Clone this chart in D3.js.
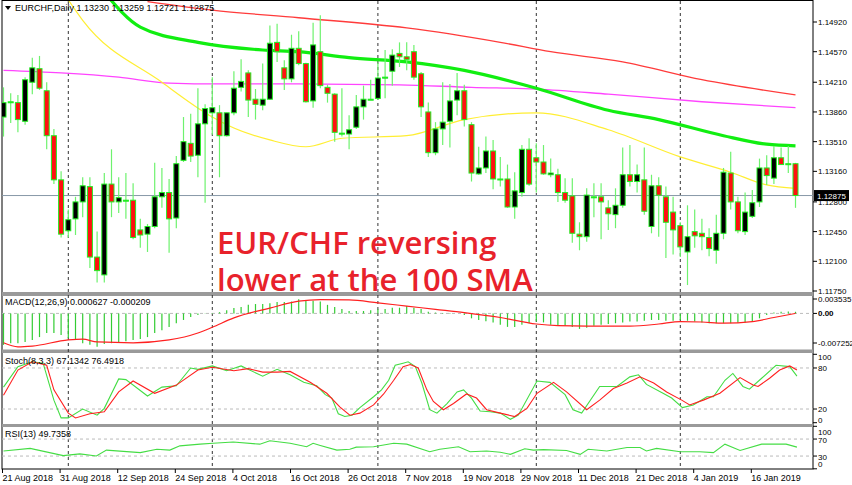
<!DOCTYPE html>
<html><head><meta charset="utf-8">
<script src="https://cdn.jsdelivr.net/npm/d3@7"></script>
<style>body{margin:0;background:#fff}svg{display:block}text{font-family:"Liberation Sans",Arial,sans-serif}</style>
</head><body><svg id="c" width="852" height="485"></svg>
<script>
const open=[1.1380,1.1398,1.1397,1.1375,1.1421,1.1437,1.1411,1.1358,1.1306,1.1246,
1.1260,1.1280,1.1298,1.1215,1.1194,1.1301,1.1280,1.1282,1.1282,1.1247,
1.1242,1.1251,1.1286,1.1291,1.1261,1.1329,1.1349,1.1335,1.1372,1.1385,
1.1385,1.1358,1.1385,1.1415,1.1432,1.1401,1.1394,1.1401,1.1468,1.1438,
1.1425,1.1461,1.1443,1.1399,1.1457,1.1415,1.1407,1.1361,1.1360,1.1368,
1.1392,1.1401,1.1402,1.1426,1.1434,1.1455,1.1451,1.1457,1.1431,1.1386,
1.1338,1.1366,1.1375,1.1400,1.1411,1.1371,1.1313,1.1320,1.1340,1.1307,
1.1307,1.1274,1.1291,1.1342,1.1332,1.1327,1.1312,1.1312,1.1291,1.1287,
1.1242,1.1239,1.1286,1.1286,1.1273,1.1265,1.1276,1.1312,1.1304,1.1306,
1.1251,1.1299,1.1286,1.1268,1.1252,1.1221,1.1245,1.1243,1.1238,1.1223,
1.1243,1.1314,1.1280,1.1245,1.1263,1.1280,1.1320,1.1308,1.1332,1.1325,1.1325];
const high=[1.1415,1.1408,1.1406,1.1427,1.1450,1.1452,1.1421,1.1366,1.1316,1.1271,
1.1286,1.1309,1.1309,1.1245,1.1314,1.1342,1.1309,1.1314,1.1302,1.1260,
1.1254,1.1326,1.1320,1.1307,1.1334,1.1380,1.1384,1.1414,1.1395,1.1427,
1.1394,1.1385,1.1434,1.1448,1.1435,1.1413,1.1443,1.1488,1.1490,1.1447,
1.1477,1.1481,1.1444,1.1491,1.1500,1.1418,1.1408,1.1414,1.1382,1.1406,
1.1417,1.1424,1.1444,1.1459,1.1460,1.1468,1.1468,1.1465,1.1433,1.1397,
1.1374,1.1421,1.1419,1.1432,1.1418,1.1374,1.1345,1.1357,1.1353,1.1333,
1.1324,1.1315,1.1347,1.1355,1.1349,1.1347,1.1331,1.1319,1.1308,1.1308,
1.1256,1.1296,1.1302,1.1302,1.1282,1.1296,1.1344,1.1347,1.1324,1.1344,
1.1312,1.1309,1.1298,1.1286,1.1256,1.1276,1.1271,1.1260,1.1249,1.1265,
1.1320,1.1339,1.1286,1.1291,1.1294,1.1331,1.1335,1.1346,1.1344,1.1346,1.1326];
const low=[1.1357,1.1373,1.1362,1.1371,1.1407,1.1412,1.1342,1.1301,1.1238,1.1238,
1.1241,1.1262,1.1202,1.1185,1.1185,1.1262,1.1267,1.1260,1.1236,1.1226,
1.1221,1.1249,1.1273,1.1220,1.1249,1.1327,1.1327,1.1309,1.1279,1.1359,
1.1309,1.1357,1.1382,1.1410,1.1380,1.1377,1.1388,1.1400,1.1445,1.1412,
1.1421,1.1441,1.1397,1.1391,1.1414,1.1397,1.1351,1.1357,1.1342,1.1366,
1.1377,1.1400,1.1400,1.1402,1.1417,1.1439,1.1435,1.1424,1.1380,1.1333,
1.1335,1.1347,1.1344,1.1382,1.1369,1.1304,1.1312,1.1314,1.1295,1.1298,
1.1273,1.1260,1.1286,1.1299,1.1291,1.1312,1.1309,1.1280,1.1279,1.1232,
1.1223,1.1233,1.1262,1.1236,1.1247,1.1249,1.1273,1.1298,1.1291,1.1265,
1.1243,1.1239,1.1214,1.1218,1.1215,1.1182,1.1226,1.1223,1.1216,1.1207,
1.1236,1.1271,1.1243,1.1241,1.1261,1.1274,1.1300,1.1301,1.1324,1.1314,1.1273];
const close=[1.1397,1.1398,1.1377,1.1424,1.1438,1.1414,1.1358,1.1306,1.1242,1.1259,
1.1280,1.1299,1.1215,1.1199,1.1301,1.1280,1.1285,1.1282,1.1238,1.1241,
1.1251,1.1286,1.1291,1.1260,1.1325,1.1351,1.1334,1.1372,1.1390,1.1391,
1.1358,1.1385,1.1414,1.1422,1.1400,1.1395,1.1401,1.1467,1.1457,1.1425,
1.1461,1.1443,1.1398,1.1465,1.1417,1.1408,1.1362,1.1361,1.1365,1.1392,
1.1401,1.1401,1.1426,1.1427,1.1453,1.1451,1.1448,1.1427,1.1392,1.1338,
1.1366,1.1374,1.1399,1.1411,1.1377,1.1314,1.1320,1.1340,1.1307,1.1307,
1.1274,1.1293,1.1342,1.1301,1.1327,1.1313,1.1314,1.1291,1.1282,1.1243,
1.1239,1.1288,1.1286,1.1280,1.1266,1.1276,1.1312,1.1304,1.1312,1.1269,
1.1299,1.1288,1.1256,1.1247,1.1227,1.1239,1.1240,1.1239,1.1225,1.1243,
1.1315,1.1280,1.1246,1.1268,1.1279,1.1320,1.1311,1.1332,1.1324,1.1325,1.12875];

const sma200Idx=[20,29,41,56,69,76,86,97,110];
const sma200=[1.1516,1.1506,1.1497,1.1485,1.1468,1.1457,1.1445,1.1424,1.1406];
const maPinkIdx=[0,8,16,23,30,41,55,65,74,84,97,110];
const maPink=[1.1435,1.1432,1.1427,1.1420,1.1419,1.1419,1.1418,1.1415,1.1413,1.1407,1.1398,1.1391];
const sma100Idx=[14,19,27,36,41,48,56,64,74,84,91,100,106,110];
const sma100=[1.1527,1.1486,1.1468,1.1459,1.1457,1.1450,1.1445,1.1435,1.1414,1.1388,1.1377,1.1358,1.1348,1.1346];
const sma50Idx=[9,11,22,29,32,37,42,47,56,64,74,84,94,101,106,110];
const sma50=[1.1518,1.1494,1.1421,1.1380,1.1367,1.1353,1.1345,1.1355,1.1358,1.1377,1.1385,1.1365,1.1333,1.1315,1.1300,1.1296];

const macdHist=[-77,-73,-73,-70,-65,-58,-48,-48,-53,-60,-65,-73,-77,-82,-75,-73,-70,-68,-65,-63,
-58,-48,-41,-33,-24,-16,-9,-4,-1,1,3,8,13,16,21,23,23,25,28,28,
29,35,33,31,29,21,16,11,6,6,6,8,10,11,14,14,18,14,11,4,
2,1,1,0,-4,-12,-16,-19,-22,-28,-33,-33,-28,-24,-20,-22,-28,-30,-30,-33,
-38,-35,-30,-28,-26,-24,-22,-20,-20,-18,-16,-16,-18,-18,-16,-18,-20,-22,-24,-24,
-24,-24,-23,-22,-20,-12,-4,2,4,5,4];
const macdSigIdx=[0,2,4,9,11,13,18,23,27,29,32,37,41,44,48,52,56,60,64,69,74,77,81,87,91,94,97,100,104,107,110];
const macdSig=[-72,-82,-80,-65,-63,-70,-72,-65,-48,-34,-11,13,30,34,33,26,18,10,2,-10,-26,-30,-31,-31,-26,-20,-21,-24,-20,-10,0];

const stochKPos=[0,2,4,5.5,7,8,9,11,13,14,16,17,20,22,24,26,27,29,31,33,36,38,39.8,41.7,43.5,44.7,45.6,46.5,47.4,48.4,49.5,51.4,52.5,53.5,54.4,55.5,56.2,57.2,58.1,59.2,60.2,61.6,63,63.9,65,66.2,67.6,69,70.4,71.5,74.1,75.9,78,79.1,80.3,82.8,85.2,87,88.2,89.3,91.6,92.8,94.3,95.8,97.7,98.6,100.2,101.3,102.7,103.6,105.3,107.3,109.2,110.2];
const stochK=[52,82,89,87,33,7,7,20,11,21,64,63,39,52,54,80,78,83,76,83,68,78,70,59,54,41,36,13,9,11,22,38,48,62,84,87,89,82,58,19,14,28,45,48,36,17,16,14,5,11,61,59,41,19,14,53,53,67,70,56,43,36,22,26,38,38,62,72,53,49,65,84,82,68];
const stochDPos=[0,2,4,6,7,9,10,12,14,16,18,21,24,27,29,32,34,36,38,39.8,42.6,44.9,46.7,48.1,49.5,51.4,52.8,54.2,55.5,56.5,57.6,58.8,59.7,61.1,62.5,64.3,65.7,67.1,69,71,72.7,74.1,76.4,78.2,81,82.8,84.7,86.6,88.4,90.3,92.1,94.2,95.3,97.2,99.5,102.3,104.1,104.8,106.4,107.8,109.2,110.2];
const stochD=[40,77,89,84,48,14,7,13,16,45,61,43,55,77,81,76,79,74,74,75,59,43,23,11,14,26,42,62,82,85,80,48,31,19,28,42,36,19,14,9,21,43,59,45,19,33,50,58,67,58,45,33,26,33,43,66,55,53,65,77,83,77];

const rsiPos=[0,3.7,8.3,10.6,12.9,14.3,19,21.3,23.1,24.5,27.3,29.1,31.9,35.6,37,39.8,42.1,43,44,46.3,48.1,49,51.4,54.2,56,59.2,60.6,63.2,64.8,67.1,69,70.4,72.4,73.6,75,78.2,80.1,81.2,83.8,86.6,88.4,89.3,90.7,94,96.7,98.6,100.2,102.3,105.3,108.7,110.2];
const rsi=[42,48,31,35,30,44,38,46,44,54,58,60,63,58,66,60,52,60,55,44,46,51,52,60,58,40,46,52,40,42,39,34,47,44,45,43,34,46,42,50,50,42,48,40,40,38,58,43,58,58,51];

const priceTicks=[1.14920,1.14570,1.14210,1.13860,1.13510,1.13160,1.12800,1.12450,1.12100,1.11750];
const dateLabels=["21 Aug 2018","31 Aug 2018","12 Sep 2018","24 Sep 2018","4 Oct 2018","16 Oct 2018","26 Oct 2018","7 Nov 2018","19 Nov 2018","29 Nov 2018","11 Dec 2018","21 Dec 2018","4 Jan 2019","16 Jan 2019"];
const dateIdx=[0,8,16,24,32,40,48,56,64,72,80,88,96,104];
const sepIdx=[9,29,52,74,94];
const lastPrice=1.12875;

const svg=d3.select("#c");
const R=813, L=2, FS=8;
const x=d3.scaleLinear().domain([0,110]).range([3.5,795.5]);
const y=d3.scaleLinear().domain([1.1175,1.1492]).range([291,22]);
const ym=d3.scaleLinear().domain([-72.52,35.35]).range([343,299]);
const ys=d3.scaleLinear().domain([0,100]).range([422.7,354.3]);
const yr=d3.scaleLinear().domain([0,100]).range([468.8,426.3]);

const defs=svg.append("defs");
function clip(id,y0,y1){defs.append("clipPath").attr("id",id).append("rect").attr("x",L).attr("y",y0).attr("width",R-L).attr("height",y1-y0);}
clip("cm",1,292);clip("cd",296,350);clip("cs",353,424);clip("cr",427,469);

svg.append("rect").attr("x",L).attr("y",0.5).attr("width",R-L).attr("height",468.5).attr("fill","none").attr("stroke","#000");
[[292,296],[349.5,353],[424,427]].forEach(([a,b])=>svg.append("rect").attr("x",L).attr("y",a).attr("width",R-L).attr("height",b-a).attr("fill","#9a9a9a"));

svg.append("g").selectAll("line").data(sepIdx).join("line")
 .attr("x1",d=>x(d)).attr("x2",d=>x(d)).attr("y1",1).attr("y2",469)
 .attr("stroke","#333").attr("stroke-dasharray","3,3");

const gm=svg.append("g").attr("clip-path","url(#cm)");
gm.append("line").attr("x1",L).attr("x2",R).attr("y1",y(lastPrice)).attr("y2",y(lastPrice)).attr("stroke","#8898a8");

const idx=d3.range(open.length);
function maLine(ix,v,col,w){
 gm.append("path").datum(ix.map((d,i)=>[d,v[i]])).attr("fill","none").attr("stroke",col).attr("stroke-width",w)
  .attr("d",d3.line().x(d=>x(d[0])).y(d=>y(d[1])).curve(d3.curveMonotoneX));
}
maLine(sma200Idx,sma200,"#ff3b3b",1.3);
maLine(maPinkIdx,maPink,"#ff44ff",1.3);
maLine(sma50Idx,sma50,"#ffee33",1.2);
maLine(sma100Idx,sma100,"#11ee11",3.2);

gm.append("g").selectAll("line").data(idx).join("line")
 .attr("x1",i=>x(i)).attr("x2",i=>x(i)).attr("y1",i=>y(high[i])).attr("y2",i=>y(low[i]))
 .attr("stroke","#6ef26e").attr("stroke-width",1.2);
gm.append("g").selectAll("rect").data(idx).join("rect")
 .attr("x",i=>x(i)-2.5).attr("width",5)
 .attr("y",i=>y(Math.max(open[i],close[i])))
 .attr("height",i=>Math.max(1,Math.abs(y(open[i])-y(close[i]))))
 .attr("fill",i=>close[i]>open[i]+0.00005?"#000":(close[i]<open[i]-0.00005?"#ff1010":"#22ee22"))
 .attr("stroke","#22ee22").attr("stroke-width",1);

const ann=svg.append("g").attr("fill","#e8222b").attr("font-weight",600).attr("font-size",31);
ann.append("text").attr("x",217).attr("y",254).text("EUR/CHF reversing").style("font-family","'Open Sans',sans-serif");
ann.append("text").attr("x",217).attr("y",291).text("lower at the 100 SMA").style("font-family","'Open Sans',sans-serif");

svg.append("path").attr("d","M5,6 L11,6 L8,10 Z").attr("fill","#000");
svg.append("text").attr("x",15).attr("y",11).attr("font-size",9).text("EURCHF,Daily  1.13230 1.13259 1.12721 1.12875");

const ax=svg.append("g");
ax.selectAll("line").data(priceTicks).join("line").attr("x1",R).attr("x2",R+4).attr("y1",d=>y(d)).attr("y2",d=>y(d)).attr("stroke","#000");
ax.selectAll("text").data(priceTicks).join("text").attr("x",R+5).attr("y",d=>y(d)+3).attr("font-size",FS).text(d=>d.toFixed(5));
svg.append("rect").attr("x",R+1).attr("y",y(lastPrice)-5.5).attr("width",35).attr("height",11).attr("fill","#000");
svg.append("text").attr("x",R+4).attr("y",y(lastPrice)+3).attr("font-size",FS).attr("fill","#fff").text(lastPrice.toFixed(5));

const gd=svg.append("g").attr("clip-path","url(#cd)");
gd.append("line").attr("x1",L).attr("x2",R).attr("y1",ym(0)).attr("y2",ym(0)).attr("stroke","#bbb").attr("stroke-dasharray","3,3");
gd.selectAll("line.h").data(idx).join("line").attr("class","h")
 .attr("x1",i=>x(i)).attr("x2",i=>x(i)).attr("y1",ym(0)).attr("y2",i=>ym(macdHist[i]))
 .attr("stroke","#33cc33").attr("stroke-width",1.2);
gd.append("path").datum(macdSigIdx.map((d,i)=>[d,macdSig[i]])).attr("fill","none").attr("stroke","#ff2020").attr("stroke-width",1.2)
 .attr("d",d3.line().x(d=>x(d[0])).y(d=>ym(d[1])).curve(d3.curveMonotoneX));
svg.append("text").attr("x",5).attr("y",305).attr("font-size",9).text("MACD(12,26,9) 0.000627 -0.000209");
[["0.003535",35.35,false],["0.00",0,true],["-0.007252",-72.52,false]].forEach(([t,v,b])=>{
 svg.append("line").attr("x1",R).attr("x2",R+4).attr("y1",ym(v)).attr("y2",ym(v)).attr("stroke","#000");
 svg.append("text").attr("x",R+5).attr("y",ym(v)+3).attr("font-size",FS).attr("font-weight",b?"bold":"normal").text(t);
});

const gs=svg.append("g").attr("clip-path","url(#cs)");
[80,20].forEach(v=>gs.append("line").attr("x1",L).attr("x2",R).attr("y1",ys(v)).attr("y2",ys(v)).attr("stroke","#bbb").attr("stroke-dasharray","3,3"));
const ls=d3.line().x(d=>x(d[0])).y(d=>ys(d[1]));
gs.append("path").datum(stochKPos.map((d,i)=>[d,stochK[i]])).attr("fill","none").attr("stroke","#44dd44").attr("stroke-width",1.1).attr("d",ls);
gs.append("path").datum(stochDPos.map((d,i)=>[d,stochD[i]])).attr("fill","none").attr("stroke","#ff2020").attr("stroke-width",1.1).attr("d",ls);
svg.append("text").attr("x",5).attr("y",364).attr("font-size",9).text("Stoch(8,3,3) 67.1342 76.4918");
[100,80,20,0].forEach(v=>{
 svg.append("line").attr("x1",R).attr("x2",R+4).attr("y1",ys(v)).attr("y2",ys(v)).attr("stroke","#000");
 svg.append("text").attr("x",R+5).attr("y",ys(v)+3+(v==100?3:0)+(v==0?-3:0)).attr("font-size",FS).text(v);
});

const gr=svg.append("g").attr("clip-path","url(#cr)");
[70,30].forEach(v=>gr.append("line").attr("x1",L).attr("x2",R).attr("y1",yr(v)).attr("y2",yr(v)).attr("stroke","#bbb").attr("stroke-dasharray","3,3"));
gr.append("path").datum(rsiPos.map((d,i)=>[d,rsi[i]])).attr("fill","none").attr("stroke","#44dd44").attr("stroke-width",1.1)
 .attr("d",d3.line().x(d=>x(d[0])).y(d=>yr(d[1])));
svg.append("text").attr("x",5).attr("y",437).attr("font-size",9).text("RSI(13) 49.7358");
[[100,432],[70,440],[30,457],[0,464]].forEach(([v,ty])=>{
 svg.append("line").attr("x1",R).attr("x2",R+4).attr("y1",yr(v)).attr("y2",yr(v)).attr("stroke","#000");
 svg.append("text").attr("x",R+5).attr("y",ty+3).attr("font-size",FS).text(v);
});

const gx=svg.append("g");
gx.selectAll("line").data(dateIdx).join("line").attr("x1",d=>x(d)-1).attr("x2",d=>x(d)-1).attr("y1",469).attr("y2",473).attr("stroke","#000");
gx.selectAll("text").data(dateIdx).join("text").attr("x",d=>x(d)-1).attr("y",481).attr("font-size",9).text((d,i)=>dateLabels[i]);
</script></body></html>
